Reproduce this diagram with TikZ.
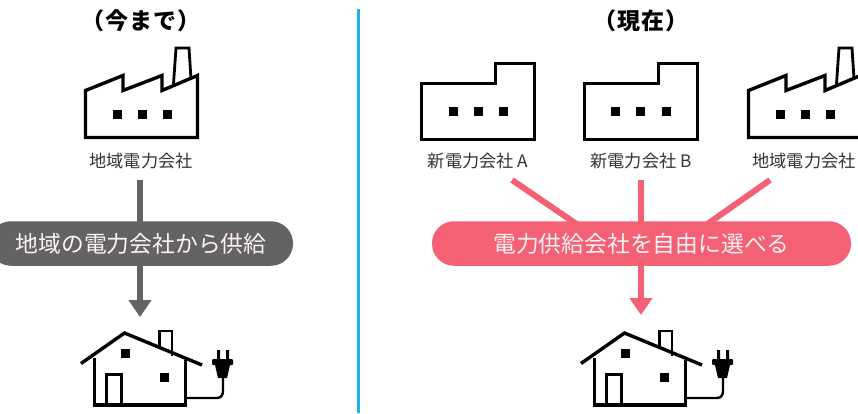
\documentclass[tikz,border=0pt]{standalone}
\usepackage{fontspec}
\setmainfont{Noto Sans CJK JP}
\usetikzlibrary{arrows.meta}

\definecolor{slate}{HTML}{636363}
\definecolor{rose}{HTML}{F46074}
\definecolor{divide}{HTML}{19B5E8}

\tikzset{icon/.style={draw=black, line width=3.4pt, miter limit=10, fill=white}}
\tikzset{firm/.style={font=\fontsize{17.2}{17}\selectfont, text=black!80, minimum height=38pt, inner sep=0pt}}
\tikzset{heading/.style={font=\fontsize{23}{23}\selectfont\bfseries\addfontfeature{LetterSpace=5}, inner sep=0pt}}
\tikzset{pill/.style={rounded corners=22pt, minimum height=44.5pt, inner sep=0pt, font=\fontsize{22.8}{23}\selectfont, text=white!92!rose}}
\tikzset{feed/.style={line width=6pt}}
\tikzset{feedtip/.style={feed, -{Triangle[width=22pt, length=17pt]}}}

% saw-tooth roof
\tikzset{saw/.pic={
    \draw[icon, line width=2.8pt] (173.5,84) -- (176,48) -- (189,48) -- (191,79);
    \draw[icon] (85.5,137.5) -- (85.5,90.5) -- (123,75.5) -- (123,90.5) -- (162,75.5) -- (162,90.5) -- (197.5,75.5) -- (197.5,137.5) -- cycle;
    \foreach \wx in {113,138,163}
        \fill (\wx,110) rectangle ++(8.5,9);
}}
% flat roof, the windows are typed per plant
\tikzset{flat/.pic={
    \draw[icon] (0,76) -- (0,20) -- (74,20) -- (74,0) -- (113,0) -- (113,76) -- cycle;
}}
\tikzset{home/.pic={
    \draw[icon, line width=2.8pt] (159.5,348) -- (159.5,331) -- (172,331) -- (172,356);
    \draw[icon, fill=none, line width=2.4pt] (187,398) -- (217,398) .. controls (221,398) and (223,395) .. (223,391) -- (223,378);
    \draw[icon, fill=none] (94.5,358) -- (94.5,405) -- (185.5,405) -- (185.5,360);
    \draw[icon, fill=none] (106.5,405) -- (106.5,374.5) -- (121.5,374.5) -- (121.5,405);
    \draw[icon, fill=none] (81,363.5) -- (124.5,333) -- (202,365);
    \fill (121,349) rectangle ++(9,9);
    \fill (160,373) rectangle ++(9,9);
    % plug
    \fill (217,350) rectangle ++(3,9) (226,350) rectangle ++(3,9);
    \fill[rounded corners=1pt] (212,359) rectangle (233,365);
    \fill (215,365) -- (230,365) -- (227,378) -- (218,378) -- cycle;
}}

\begin{document}
\begin{tikzpicture}[x=1pt, y=-1pt]
    \useasboundingbox (0,0) rectangle (858,413);
    \clip (0,0) rectangle (858,413);

    \node[heading] (now) at (141,21) {（今まで）};
    \node[heading] (then) at (641,21) {（現在）};

    \pic at (0,0) {saw};
    \pic at (421.5,63.5) {flat};
    \pic at (584.5,63.5) {flat};
    \pic at (663,0) {saw};
    \foreach \wx in {449,474,499,611,636,662}
        \fill (\wx,107) rectangle ++(9,9);

    \node[firm] (local) at (141,161) {地域電力会社};
    \node[firm] (firma) at (478,161) {新電力会社 A};
    \node[firm] (firmb) at (641,161) {新電力会社 B};
    \node[firm] (localb) at (804,161) {地域電力会社};

    \coordinate (fromold) at (140,180);
    \coordinate (intoold) at (140,225);
    \coordinate (outold) at (140,260);
    \coordinate (fromA) at (512,180);
    \coordinate (intoA) at (578,225);
    \coordinate (fromC) at (770,180);
    \coordinate (intoC) at (706,225);
    \coordinate (intoB) at (641,225);
    \coordinate (outnew) at (641,260);
    \coordinate (homeold) at (140,317);
    \coordinate (homenew) at (641,315);

    \draw[feed, slate] (fromold) -- (intoold);
    \draw[feedtip, slate] (outold) -- (homeold);
    \draw[feed, rose] (fromA) -- (intoA);
    \draw[feed, rose] (fromC) -- (intoC);
    \draw[feed, rose] (firmb.south) -- (intoB);
    \draw[feedtip, rose] (outnew) -- (homenew);

    \node[pill, fill=slate, minimum width=304pt] (oldpill) at (141,243.5) {地域の電力会社から供給};
    \node[pill, fill=rose, minimum width=419pt] (newpill) at (641.5,243.5) {電力供給会社を自由に選べる};

    \pic at (0,0) {home};
    \pic at (500,0) {home};

    \coordinate (topline) at (358.5,9);
    \coordinate (endline) at (358.5,413);
    \draw[divide, line width=2.5pt] (topline) -- (endline);
\end{tikzpicture}
\end{document}
